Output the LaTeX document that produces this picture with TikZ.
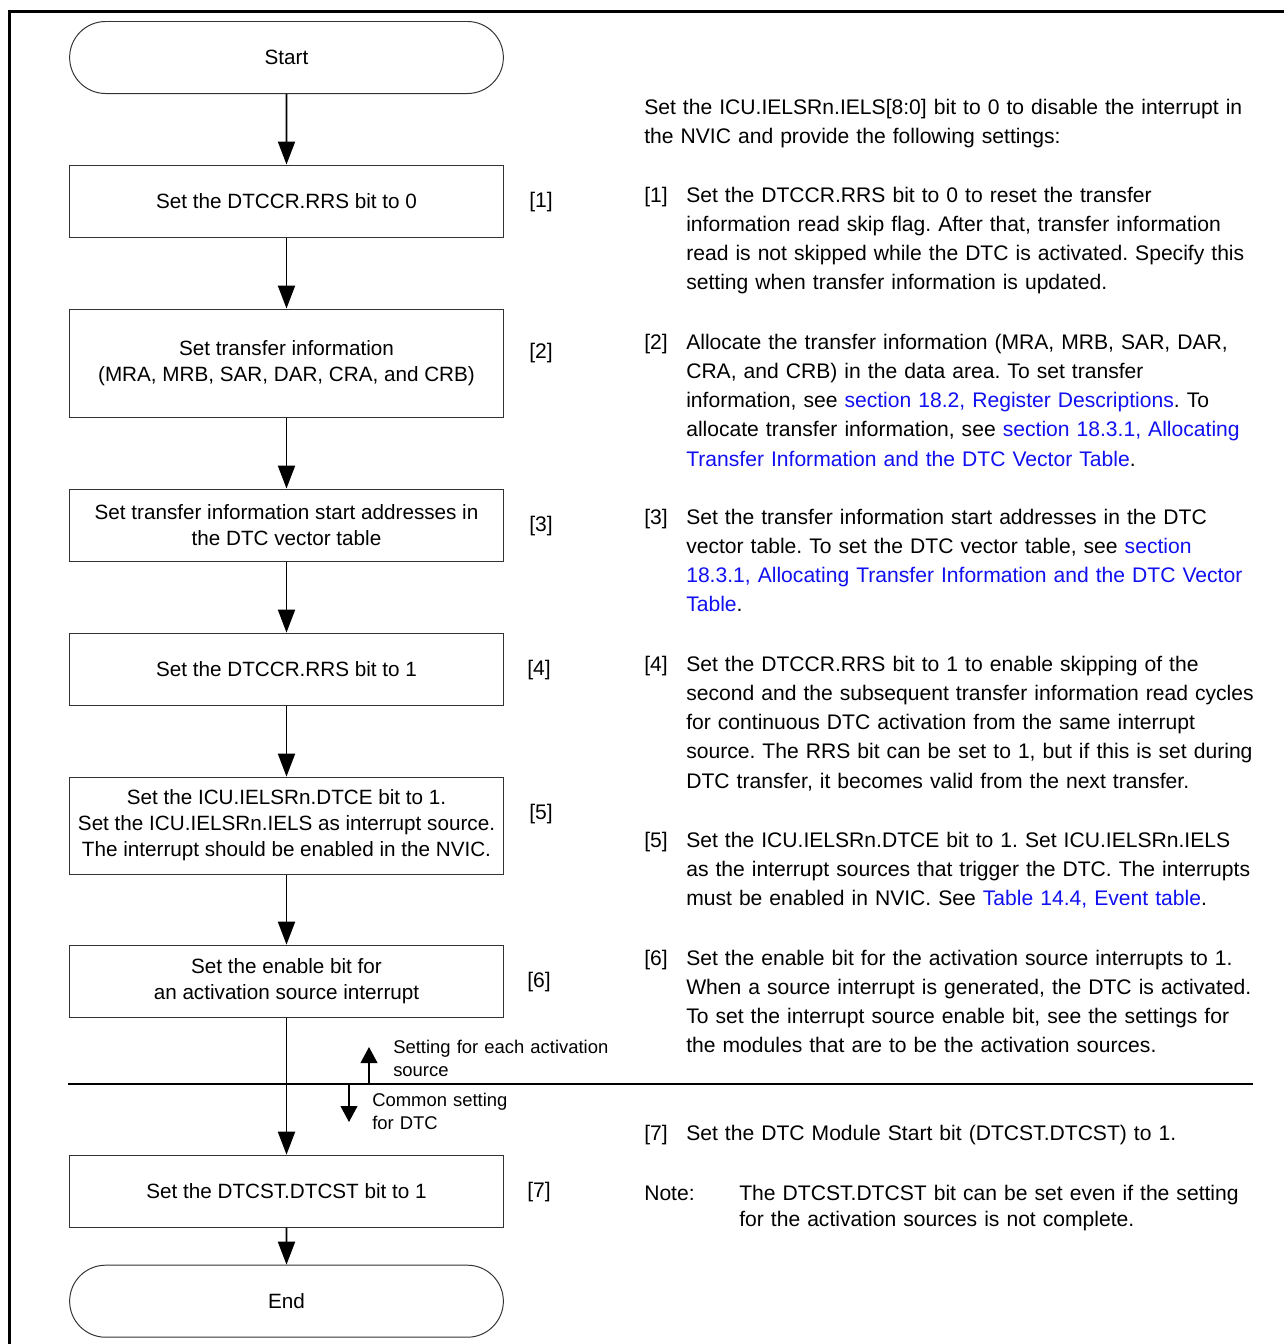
\documentclass[tikz,border=0pt]{standalone}
\usepackage{fontspec}
\setmainfont{Liberation Sans}
\usepackage{tikz}
\usetikzlibrary{shapes.misc, arrows.meta, positioning}
\frenchspacing
\definecolor{cLink}{RGB}{16,16,240}
\newcommand{\lnk}[1]{\textcolor{cLink}{#1}}
\tikzset{
	term/.style    ={rounded rectangle, draw=black!80, line width=0.7pt, minimum width=11.075cm, minimum height=1.8cm, align=center, font=\fontsize{14.7}{18.5}\selectfont},
	stepbox/.style ={rectangle, draw=black!80, line width=0.7pt, minimum width=10.825cm, minimum height=1.8cm, align=center, font=\fontsize{14.7}{18.5}\selectfont},
	flowarrow/.style={-{Triangle[length=0.575cm, width=0.425cm]}, line width=1.4pt},
	% side notes
	tag/.style     ={anchor=base, inner sep=0pt, font=\fontsize{15}{18.5}\selectfont},
	desc/.style    ={anchor=base west, inner sep=0pt, text width=15cm, align=left, font=\fontsize{15}{20.8}\selectfont},
	small/.style   ={anchor=base west, inner sep=0pt, text width=6cm, align=left, font=\fontsize{13.1}{16.4}\selectfont},
	sepline/.style ={line width=2.1pt},
	smallarrow/.style={-{Triangle[length=0.4cm, width=0.42cm]}, line width=1.1pt},
}
\begin{document}
\begin{tikzpicture}[x=0.025cm, y=-0.025cm]
	\useasboundingbox (0,0) rectangle (1284,1344);
	% outer frame (cut by the page)
	\draw[line width=2.1pt] (9.5,1344) -- (9.5,11.5) -- (1284,11.5);
	% flow chart
	\node[term] (start) at (286.5,57.5) {Start};
	\node[stepbox, below=1.7625cm of start] (s1) {Set the DTCCR.RRS bit to 0};
	\node[stepbox, below=1.775cm of s1, minimum height=2.7cm] (s2) {Set transfer information\\(MRA, MRB, SAR, DAR, CRA, and CRB)};
	\node[stepbox, below=1.775cm of s2] (s3) {Set transfer information start addresses in\\the DTC vector table};
	\node[stepbox, below=1.775cm of s3] (s4) {Set the DTCCR.RRS bit to 1};
	\node[stepbox, below=1.775cm of s4, minimum height=2.425cm] (s5) {Set the ICU.IELSRn.DTCE bit to 1.\\Set the ICU.IELSRn.IELS as interrupt source.\\The interrupt should be enabled in the NVIC.};
	\node[stepbox, below=1.75cm of s5] (s6) {Set the enable bit for\\an activation source interrupt};
	\node[stepbox, below=3.425cm of s6] (s7) {Set the DTCST.DTCST bit to 1};
	\node[term, below=0.925cm of s7] (end) {End};
	\draw[flowarrow] (start) -- (s1);
	\draw[flowarrow] (s1) -- (s2);
	\draw[flowarrow] (s2) -- (s3);
	\draw[flowarrow] (s3) -- (s4);
	\draw[flowarrow] (s4) -- (s5);
	\draw[flowarrow] (s5) -- (s6);
	\draw[flowarrow] (s6) -- (s7);
	\draw[flowarrow] (s7) -- (end);
	% step numbers
	\node[tag] (k1) at (541,207) {[1]};
	\node[tag] (k2) at (541,358) {[2]};
	\node[tag] (k3) at (541,531) {[3]};
	\node[tag] (k4) at (539,675) {[4]};
	\node[tag] (k5) at (541,819) {[5]};
	\node[tag] (k6) at (539,987) {[6]};
	\node[tag] (k7) at (539,1197) {[7]};
	% border between the two kinds of setting
	\coordinate (sepL) at (68,1084);
	\coordinate (sepR) at (1253,1084);
	\draw[sepline] (sepL) -- (sepR);
	\coordinate (upA) at (369,1084);
	\coordinate (upB) at (369,1047);
	\coordinate (dnA) at (349,1084);
	\coordinate (dnB) at (349,1122);
	\draw[smallarrow] (upA) -- (upB);
	\draw[smallarrow] (dnA) -- (dnB);
	\node[small] (each) at (393,1053) {Setting for each activation\\source};
	\node[small] (common) at (372,1106) {Common setting\\for DTC};
	% descriptions
	\node[desc] (intro) at (644,114) {Set the ICU.IELSRn.IELS[8:0] bit to 0 to disable the interrupt in\\the NVIC and provide the following settings:};
	\node[desc] (n1) at (644,202) {[1]};
	\node[desc] (d1) at (686,202) {Set the DTCCR.RRS bit to 0 to reset the transfer\\information read skip flag. After that, transfer information\\read is not skipped while the DTC is activated. Specify this\\setting when transfer information is updated.};
	\node[desc] (n2) at (644,349) {[2]};
	\node[desc] (d2) at (686,349) {Allocate the transfer information (MRA, MRB, SAR, DAR,\\CRA, and CRB) in the data area. To set transfer\\information, see \lnk{section 18.2, Register Descriptions}. To\\allocate transfer information, see \lnk{section 18.3.1, Allocating}\\\lnk{Transfer Information and the DTC Vector Table}.};
	\node[desc] (n3) at (644,524) {[3]};
	\node[desc] (d3) at (686,524) {Set the transfer information start addresses in the DTC\\vector table. To set the DTC vector table, see \lnk{section}\\\lnk{18.3.1, Allocating Transfer Information and the DTC Vector}\\\lnk{Table}.};
	\node[desc] (n4) at (644,671) {[4]};
	\node[desc] (d4) at (686,671) {Set the DTCCR.RRS bit to 1 to enable skipping of the\\second and the subsequent transfer information read cycles\\for continuous DTC activation from the same interrupt\\source. The RRS bit can be set to 1, but if this is set during\\DTC transfer, it becomes valid from the next transfer.};
	\node[desc] (n5) at (644,847) {[5]};
	\node[desc] (d5) at (686,847) {Set the ICU.IELSRn.DTCE bit to 1. Set ICU.IELSRn.IELS\\as the interrupt sources that trigger the DTC. The interrupts\\must be enabled in NVIC. See \lnk{Table 14.4, Event table}.};
	\node[desc] (n6) at (644,965) {[6]};
	\node[desc] (d6) at (686,965) {Set the enable bit for the activation source interrupts to 1.\\When a source interrupt is generated, the DTC is activated.\\To set the interrupt source enable bit, see the settings for\\the modules that are to be the activation sources.};
	\node[desc] (n7) at (644,1140) {[7]};
	\node[desc] (d7) at (686,1140) {Set the DTC Module Start bit (DTCST.DTCST) to 1.};
	\node[desc] (nn) at (644,1200) {Note:};
	\node[desc, font=\fontsize{15}{18.5}\selectfont] (dn) at (739,1200) {The DTCST.DTCST bit can be set even if the setting\\for the activation sources is not complete.};
\end{tikzpicture}
\end{document}
